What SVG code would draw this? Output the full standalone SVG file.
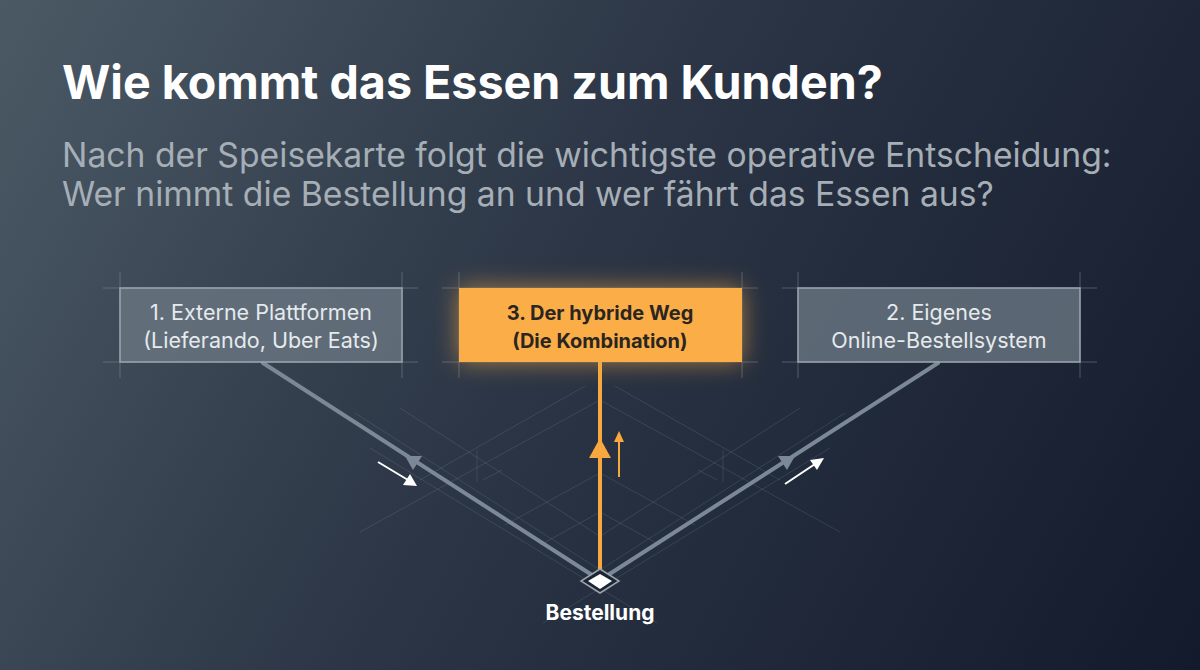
<svg xmlns="http://www.w3.org/2000/svg" width="1200" height="670" viewBox="0 0 1200 670">
  <defs>
    <linearGradient id="bg" x1="0" y1="0" x2="1200" y2="670" gradientUnits="userSpaceOnUse">
      <stop offset="0" stop-color="#4b5965"/>
      <stop offset="0.45" stop-color="#2c3646"/>
      <stop offset="1" stop-color="#131a2b"/>
    </linearGradient>
    <filter id="glow" x="-50%" y="-80%" width="200%" height="260%">
      <feGaussianBlur stdDeviation="12"/>
    </filter>
    <filter id="glowLine" x="-400%" y="-20%" width="900%" height="140%">
      <feGaussianBlur stdDeviation="6"/>
    </filter>
    <style>
      .title { font-family: Inter, "Liberation Sans", sans-serif; font-weight: 700; fill: #ffffff; }
      .sub { font-family: Inter, "Liberation Sans", sans-serif; font-weight: 400; fill: #a6aeb6; }
      .lbl { font-family: Inter, "Liberation Sans", sans-serif; text-anchor: middle; }
      .grey-lbl { fill: #e6eaed; font-weight: 400; font-size: 21.5px; }
      .orange-lbl { fill: #2a2520; font-weight: 700; font-size: 20px; }
      .ext { stroke: #8a96a1; stroke-opacity: 0.45; stroke-width: 1; fill: none; }
      .gbox { fill: #6b7884; fill-opacity: 0.78; stroke: #9aa5ae; stroke-width: 1.5; }
      .faint { stroke: #aab4bf; stroke-opacity: 0.16; stroke-width: 1; fill: none; }
      .thick { stroke: #7b8896; stroke-width: 4; fill: none; stroke-linecap: round; }
      .white-arrow { stroke: #ffffff; stroke-width: 2; fill: none; }
    </style>
  </defs>

  <rect x="0" y="0" width="1200" height="670" fill="url(#bg)"/>

  <g id="heading">
    <text class="title" x="62" y="99" font-size="46.6">Wie kommt das Essen zum Kunden?</text>
    <text class="sub" x="62" y="167" font-size="33.7">Nach der Speisekarte folgt die wichtigste operative Entscheidung:</text>
    <text class="sub" x="62" y="206" font-size="33.7">Wer nimmt die Bestellung an und wer fährt das Essen aus?</text>
  </g>

  <g id="grid">
    <!-- left lattice -->
    <line class="faint" x1="360" y1="532" x2="600" y2="400"/>
    <line class="faint" x1="420" y1="480" x2="585" y2="386"/>
    <line class="faint" x1="400" y1="408" x2="598" y2="535"/>
    <line class="faint" x1="505" y1="525" x2="600" y2="473"/>
    <line class="faint" x1="540" y1="545" x2="600" y2="512"/>
    <line class="faint" x1="477" y1="450" x2="477" y2="482"/>
    <line class="faint" x1="483" y1="480" x2="502" y2="470"/>
    <line class="faint" x1="355" y1="413" x2="600" y2="570"/>
    <line class="faint" x1="370" y1="448" x2="657" y2="623"/>
    <!-- right lattice -->
    <line class="faint" x1="840" y1="532" x2="600" y2="400"/>
    <line class="faint" x1="780" y1="480" x2="615" y2="386"/>
    <line class="faint" x1="800" y1="408" x2="602" y2="535"/>
    <line class="faint" x1="695" y1="525" x2="600" y2="473"/>
    <line class="faint" x1="660" y1="545" x2="600" y2="512"/>
    <line class="faint" x1="723" y1="450" x2="723" y2="482"/>
    <line class="faint" x1="717" y1="480" x2="698" y2="470"/>
    <line class="faint" x1="845" y1="413" x2="600" y2="570"/>
    <line class="faint" x1="830" y1="448" x2="543" y2="623"/>
  </g>

  <g id="connectors">
    <!-- left grey line -->
    <line class="thick" x1="263" y1="363" x2="592" y2="575"/>
    <polygon points="405,456 422,456 413,470" fill="#7b8896"/>
    <line class="white-arrow" x1="378" y1="462" x2="408" y2="480"/>
    <polygon points="417,486 403,485 410,474" fill="#ffffff"/>
    <!-- right grey line -->
    <line class="thick" x1="938" y1="363" x2="608" y2="575"/>
    <polygon points="778,456 795,456 787,470" fill="#7b8896"/>
    <line class="white-arrow" x1="785" y1="484" x2="815" y2="464"/>
    <polygon points="824,458 817,470 810,460" fill="#ffffff"/>
    <!-- orange line -->
    <line x1="600" y1="362" x2="600" y2="576" stroke="#f7a83e" stroke-width="12" stroke-opacity="0.5" filter="url(#glowLine)"/>
    <line x1="600" y1="362" x2="600" y2="576" stroke="#f7a83e" stroke-width="4"/>
    <polygon points="600,438 611,458 589,458" fill="#f7a83e"/>
    <line x1="619" y1="441" x2="619" y2="477" stroke="#f7a83e" stroke-width="2"/>
    <polygon points="619,431 624,442 614,442" fill="#f7a83e"/>
  </g>

  <g id="node-extern">
    <line class="ext" x1="120" y1="272" x2="120" y2="378"/>
    <line class="ext" x1="402" y1="272" x2="402" y2="378"/>
    <line class="ext" x1="103" y1="288" x2="418" y2="288"/>
    <line class="ext" x1="103" y1="362" x2="418" y2="362"/>
    <rect class="gbox" x="120" y="288" width="282" height="74"/>
    <text class="lbl grey-lbl" x="261" y="320">1. Externe Plattformen</text>
    <text class="lbl grey-lbl" x="261" y="348">(Lieferando, Uber Eats)</text>
  </g>

  <g id="node-hybrid">
    <rect x="459" y="288" width="283" height="74" fill="#f9ab42" opacity="0.6" filter="url(#glow)"/>
    <line class="ext" x1="459" y1="272" x2="459" y2="378"/>
    <line class="ext" x1="742" y1="272" x2="742" y2="378"/>
    <line class="ext" x1="442" y1="288" x2="758" y2="288"/>
    <line class="ext" x1="442" y1="362" x2="758" y2="362"/>
    <rect x="459" y="288" width="283" height="74" fill="#fbae48"/>
    <text class="lbl orange-lbl" x="600" y="320">3. Der hybride Weg</text>
    <text class="lbl orange-lbl" x="600" y="348">(Die Kombination)</text>
  </g>

  <g id="node-eigen">
    <line class="ext" x1="798" y1="272" x2="798" y2="378"/>
    <line class="ext" x1="1080" y1="272" x2="1080" y2="378"/>
    <line class="ext" x1="782" y1="288" x2="1097" y2="288"/>
    <line class="ext" x1="782" y1="362" x2="1097" y2="362"/>
    <rect class="gbox" x="798" y="288" width="282" height="74"/>
    <text class="lbl grey-lbl" x="939" y="320">2. Eigenes</text>
    <text class="lbl grey-lbl" x="939" y="348">Online-Bestellsystem</text>
  </g>

  <g id="node-bestellung">
    <polygon points="600,569 619,581 600,593 581,581" fill="#1c2434" stroke="#9aa5ae" stroke-width="1.5"/>
    <polygon points="600,574 612,581 600,589 588,581" fill="#ffffff"/>
    <text class="lbl" x="600" y="620" fill="#ffffff" font-weight="700" font-size="21">Bestellung</text>
  </g>
</svg>
